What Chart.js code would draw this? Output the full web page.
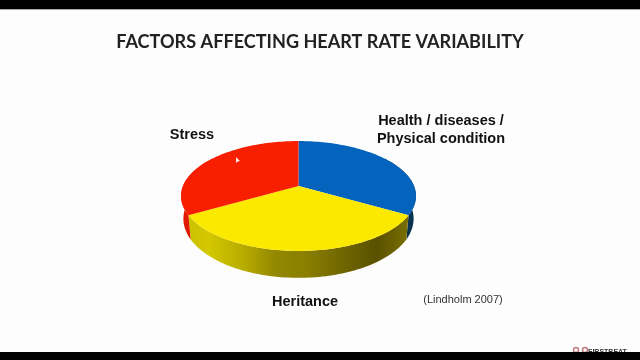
<!DOCTYPE html>
<html>
<head>
<meta charset="utf-8">
<script src="https://cdn.jsdelivr.net/npm/chart.js@4/dist/chart.umd.min.js"></script>
<style>
    html, body { margin: 0; padding: 0; background: #fdfdfd; }
    #wrap { position: relative; width: 640px; height: 360px; overflow: hidden; }
    #bar-top, #bar-bottom { position: absolute; left: 0; width: 640px; background: #000; }
    #bar-top { top: 0; height: 9px; border-bottom: 1px solid #aaa; }
    #bar-bottom { bottom: 0; height: 8px; }
</style>
</head>
<body>
<div id="wrap">
    <canvas id="pie" width="640" height="360"></canvas>
    <div id="bar-top"></div>
    <div id="bar-bottom"></div>
</div>
<script>
const categories = ["Health / diseases / Physical condition", "Heritance", "Stress"];
const shares = [1, 1, 1];
const topColors = ["#0463bd", "#fbe900", "#f81e00"];
const wallStops = [
    [[0, "#0a3350"], [1, "#0a3350"]],
    [[0, "#c9c000"], [0.11, "#d4c800"], [0.26, "#b8ac00"], [0.4, "#938800"], [0.53, "#8a7f00"], [0.7, "#6f6500"], [0.84, "#5a5000"], [0.96, "#776c00"], [1, "#7c7100"]],
    [[0, "#e01a00"], [1, "#e01a00"]],
];

// perspective of the tilted disc, slide text
const TILT = 0.46;
const PERSP = 0.182;
const DEPTH = 22;
const BOTTOM_SHRINK = 0.98;

const slideTexts = [
    { text: "FACTORS AFFECTING HEART RATE VARIABILITY", x: 320, y: 42, font: "bold 18.1px Lato", color: "#222" },
    { text: "Stress", x: 192, y: 135, font: "bold 14.5px 'Liberation Sans'", color: "#111" },
    { text: "Health / diseases /", x: 441, y: 121, font: "bold 14.5px 'Liberation Sans'", color: "#111" },
    { text: "Physical condition", x: 441, y: 139, font: "bold 14.5px 'Liberation Sans'", color: "#111" },
    { text: "Heritance", x: 305, y: 302, font: "bold 14.5px 'Liberation Sans'", color: "#111" },
    { text: "(Lindholm 2007)", x: 463, y: 300, font: "11px 'Liberation Sans'", color: "#333" },
    { text: "FIRSTBEAT", x: 607.5, y: 352, font: "bold 7px 'Liberation Sans'", color: "#333" },
];

function project(el, angle, lower) {
    const s = Math.sin(angle);
    const c = Math.cos(angle);
    const w = 1 / (1 - PERSP * s);
    const r = el.outerRadius;
    const shrink = lower ? BOTTOM_SHRINK : 1;
    return {
        x: el.x + r * c * w * shrink,
        y: el.y + r * TILT * s * w + (lower ? DEPTH * w : 0),
    };
}

function arcPoints(el, from, to, lower) {
    const pts = [];
    const steps = Math.max(2, Math.ceil(Math.abs(to - from) * 40));
    for (let i = 0; i <= steps; i++) {
        pts.push(project(el, from + (to - from) * i / steps, lower));
    }
    return pts;
}

function tracePath(ctx, pts) {
    pts.forEach((p, i) => (i ? ctx.lineTo(p.x, p.y) : ctx.moveTo(p.x, p.y)));
    ctx.closePath();
}

const pie3d = {
    id: "pie3d",
    beforeDatasetDraw(chart, args) {
        const ctx = chart.ctx;
        const arcs = args.meta.data;

        // walls first, tops cover whatever lies behind
        arcs.forEach((el, i) => {
            const from = Math.max(el.startAngle, -0.6);
            const to = Math.min(el.endAngle, Math.PI + 0.6);
            if (to <= from) return;
            const grad = ctx.createLinearGradient(project(el, Math.PI, false).x, 0, project(el, 0, false).x, 0);
            wallStops[i].forEach(([at, col]) => grad.addColorStop(at, col));
            ctx.fillStyle = grad;
            ctx.beginPath();
            tracePath(ctx, arcPoints(el, from, to, false).concat(arcPoints(el, to, from, true)));
            ctx.fill();
        });

        arcs.forEach((el) => {
            ctx.fillStyle = el.options.backgroundColor;
            ctx.beginPath();
            tracePath(ctx, [{ x: el.x, y: el.y }].concat(arcPoints(el, el.startAngle, el.endAngle, false)));
            ctx.fill();
        });
        return false; // default flat arcs are replaced by the tilted ones
    },
    afterDraw(chart) {
        const ctx = chart.ctx;
        ctx.save();
        ctx.textAlign = "center";
        ctx.textBaseline = "middle";
        slideTexts.forEach((t) => {
            ctx.font = t.font;
            ctx.fillStyle = t.color;
            ctx.fillText(t.text, t.x, t.y);
        });
        // logo rings next to the watermark
        ctx.strokeStyle = "#c07a80";
        ctx.lineWidth = 1.5;
        [576, 585].forEach((x) => {
            ctx.beginPath();
            ctx.arc(x, 350, 2.5, 0, Math.PI * 2);
            ctx.stroke();
        });
        // presenter's mouse pointer on the red slice
        ctx.fillStyle = "#fbe4e0";
        ctx.beginPath();
        ctx.moveTo(236, 157);
        ctx.lineTo(236, 163);
        ctx.lineTo(238, 161.5);
        ctx.lineTo(240, 161);
        ctx.closePath();
        ctx.fill();
        ctx.restore();
    },
};

new Chart(document.getElementById("pie").getContext("2d"), {
    type: "pie",
    data: {
        labels: categories,
        datasets: [{ data: shares, backgroundColor: topColors, borderWidth: 0 }],
    },
    options: {
        responsive: false,
        animation: false,
        layout: { padding: { left: 183, right: 226, top: 70.5, bottom: 58.5 } },
        plugins: { legend: { display: false }, tooltip: { enabled: false } },
    },
    plugins: [pie3d],
});
</script>
</body>
</html>
